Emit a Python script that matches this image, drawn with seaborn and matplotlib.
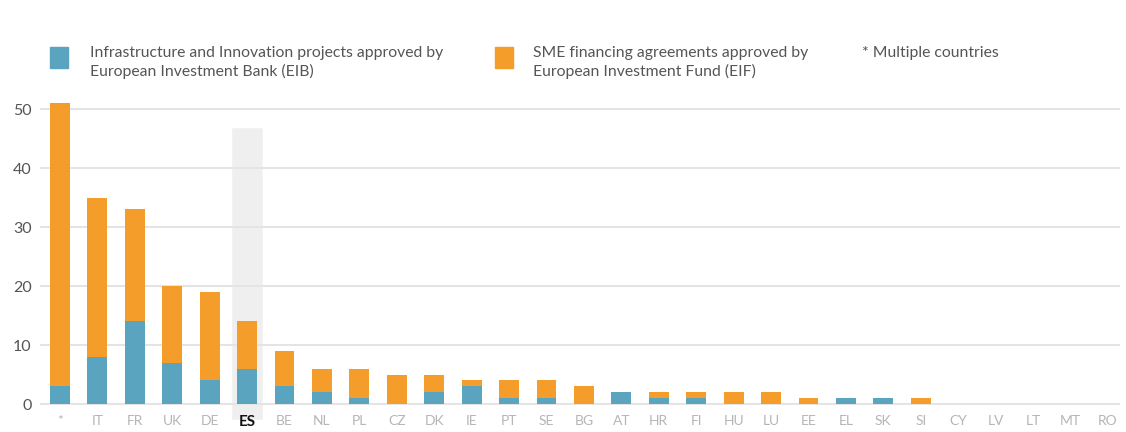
import matplotlib
matplotlib.use("Agg")
import matplotlib.pyplot as plt
from matplotlib.patches import Rectangle
import seaborn as sns
import pandas as pd

countries = ["*", "IT", "FR", "UK", "DE", "ES", "BE", "NL", "PL", "CZ", "DK", "IE", "PT", "SE",
             "BG", "AT", "HR", "FI", "HU", "LU", "EE", "EL", "SK", "SI", "CY", "LV", "LT", "MT", "RO"]
eib = [3, 8, 14, 7, 4, 6, 3, 2, 1, 0, 2, 3, 1, 1,
       0, 2, 1, 1, 0, 0, 0, 1, 1, 0, 0, 0, 0, 0, 0]
eif = [48, 27, 19, 13, 15, 8, 6, 4, 5, 5, 3, 1, 3, 3,
       3, 0, 1, 1, 2, 2, 1, 0, 0, 1, 0, 0, 0, 0, 0]
highlight = "ES"
highlight_height = 47

blue = "#5ba4bf"
orange = "#f59d2a"

df = pd.DataFrame({"country": countries, "eib": eib, "eif": eif})
df["total"] = df["eib"] + df["eif"]

sns.set_style("white")
plt.rcParams["font.family"] = ["Lato", "DejaVu Sans"]

fig = plt.figure(figsize=(11.26, 4.32), dpi=100)
ax = fig.add_axes([0.0355, 0.047, 0.959, 0.728])

# grey band behind the highlighted country
hi = countries.index(highlight)
ax.bar(hi, highlight_height + 2.7, bottom=-2.7, width=0.855, color="#efefef",
       zorder=0, clip_on=False)

for v in range(0, 60, 10):
    ax.axhline(v, color="#e4e4e4", lw=1.4, zorder=0.5)

sns.barplot(data=df, x="country", y="total", color=orange, width=0.53,
            saturation=1, linewidth=0, ax=ax, zorder=2)
sns.barplot(data=df, x="country", y="eib", color=blue, width=0.53,
            saturation=1, linewidth=0, ax=ax, zorder=3)

ax.set_xlim(-0.534, 28.32)
ax.set_ylim(-1.3, 52)
ax.set_yticks(range(0, 60, 10))
ax.set_xlabel("")
ax.set_ylabel("")
for s in ax.spines.values():
    s.set_visible(False)
ax.tick_params(axis="y", labelsize=11.5, colors="#555555", length=0, pad=6)
ax.tick_params(axis="x", labelsize=10, colors="#b5b5b5", length=0, pad=2.5)
for lab in ax.get_xticklabels():
    if lab.get_text() == highlight:
        lab.set_color("#111111")
        lab.set_fontweight("bold")
        lab.set_fontsize(11)

# legend
fs = 11.3
fig.patches.append(Rectangle((50 / 1126, 1 - 68 / 432), 18 / 1126, 21 / 432,
                             transform=fig.transFigure, color=blue))
fig.text(90 / 1126, 1 - 53 / 432, "Infrastructure and Innovation projects approved by",
         fontsize=fs, color="#555555", va="center")
fig.text(90 / 1126, 1 - 71 / 432, "European Investment Bank (EIB)",
         fontsize=fs, color="#555555", va="center")
fig.patches.append(Rectangle((495 / 1126, 1 - 68 / 432), 18 / 1126, 21 / 432,
                             transform=fig.transFigure, color=orange))
fig.text(533 / 1126, 1 - 53 / 432, "SME financing agreements approved by",
         fontsize=fs, color="#555555", va="center")
fig.text(533 / 1126, 1 - 71 / 432, "European Investment Fund (EIF)",
         fontsize=fs, color="#555555", va="center")
fig.text(862 / 1126, 1 - 53 / 432, "* Multiple countries",
         fontsize=fs, color="#555555", va="center")

fig.savefig("out.png", dpi=100, facecolor="white")
